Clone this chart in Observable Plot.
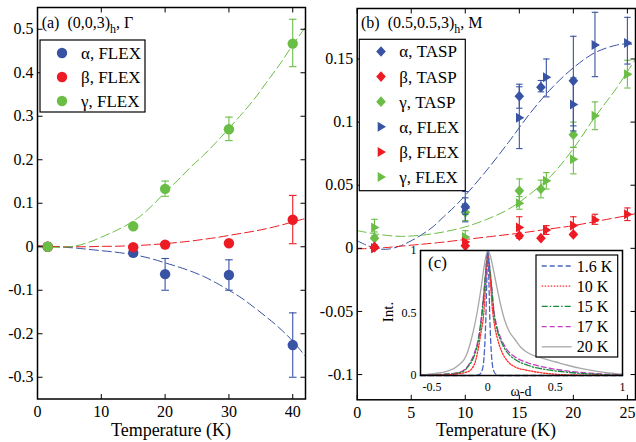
<!DOCTYPE html>
<html><head><meta charset="utf-8">
<script src="https://cdn.jsdelivr.net/npm/d3@7"></script>
<script src="https://cdn.jsdelivr.net/npm/@observablehq/plot@0.6"></script>
<style>
html,body{margin:0;padding:0;background:#fff;}
#wrap{position:relative;width:636px;height:442px;overflow:hidden;font-family:"Liberation Serif","Times New Roman",serif;}
#wrap > svg{position:absolute;overflow:visible;}
</style></head><body><div id="wrap"></div>
<script>
// ---------- Panel (a): (0,0,3)h, Gamma ----------
const aT = [1.6, 15, 20, 30, 40];
const aAlpha   = [0, -0.014, -0.063, -0.065, -0.226];
const aAlphaLo = [null, -0.022, -0.100, -0.100, -0.300];
const aAlphaHi = [null, -0.006, -0.027, -0.030, -0.152];
const aBeta    = [0, -0.001, 0.005, 0.008, 0.062];
const aBetaLo  = [null, null, null, null, 0.007];
const aBetaHi  = [null, null, null, null, 0.118];
const aGamma   = [0, 0.047, 0.133, 0.270, 0.467];
const aGammaLo = [null, null, 0.116, 0.244, 0.414];
const aGammaHi = [null, null, 0.151, 0.298, 0.523];
const aFitT     = [0, 2, 4, 6, 8, 10, 12, 14, 16, 18, 20, 22, 24, 26, 28, 30, 32, 34, 36, 38, 40, 42];
const aFitAlpha = [0.002, 0.001, -0.001, -0.003, -0.006, -0.009, -0.012, -0.016, -0.021, -0.028, -0.037, -0.046, -0.056, -0.068, -0.083, -0.100, -0.118, -0.140, -0.163, -0.188, -0.217, -0.252];
const aFitBeta  = [0.002, 0.001, 0.000, 0.000, 0.000, 0.001, 0.001, 0.002, 0.003, 0.005, 0.007, 0.010, 0.013, 0.017, 0.021, 0.026, 0.031, 0.036, 0.042, 0.049, 0.057, 0.065];
const aFitGamma = [0.000, -0.001, -0.001, 0.002, 0.010, 0.022, 0.035, 0.050, 0.069, 0.095, 0.125, 0.153, 0.183, 0.210, 0.240, 0.272, 0.305, 0.340, 0.380, 0.420, 0.464, 0.505];
const aXTicks = [0, 10, 20, 30, 40];
const aYTicks = [-0.3, -0.2, -0.1, 0, 0.1, 0.2, 0.3, 0.4, 0.5];

// ---------- Panel (b): (0.5,0.5,3)h, M ----------
const bTaspT = [1.6, 10, 15, 17, 20];
const bTaspAlpha   = [0.001, 0.033, 0.1205, 0.1277, 0.1327];
const bTaspAlphaLo = [null, 0.027, 0.111, 0.124, 0.097];
const bTaspAlphaHi = [null, 0.040, 0.130, 0.133, 0.168];
const bTaspBeta    = [0.001, 0.002, 0.010, 0.008, 0.011];
const bTaspGamma   = [0.008, 0.0285, 0.0456, 0.047, 0.090];
const bTaspGammaLo = [0.003, 0.022, 0.036, 0.040, 0.080];
const bTaspGammaHi = [0.013, 0.035, 0.055, 0.054, 0.100];
const bFlexT = [1.6, 10, 15, 17.5, 20, 22, 25];
const bFlexAlpha   = [0.000, 0.032, 0.1035, 0.1356, 0.114, 0.161, 0.1627];
const bFlexAlphaLo = [null, 0.021, 0.079, 0.120, 0.093, 0.136, 0.146];
const bFlexAlphaHi = [null, 0.045, 0.128, 0.150, 0.135, 0.187, 0.183];
const bFlexBeta    = [0.000, 0.005, 0.0166, 0.0145, 0.018, 0.0227, 0.027];
const bFlexBetaLo  = [null, null, 0.008, 0.011, 0.012, 0.019, 0.022];
const bFlexBetaHi  = [null, null, 0.025, 0.018, 0.025, 0.027, 0.032];
const bFlexGamma   = [0.0166, 0.009, 0.0358, 0.0535, 0.0706, 0.105, 0.138];
const bFlexGammaLo = [0.010, 0.005, 0.031, 0.047, 0.059, 0.094, 0.127];
const bFlexGammaHi = [0.023, 0.014, 0.041, 0.060, 0.080, 0.116, 0.149];
const bFitAlphaT = [0, 1, 2, 3, 4, 5, 6, 7, 8, 9, 10, 12, 14, 16, 18, 20, 22, 24, 25, 25.75];
const bFitAlpha  = [0.006, 0.002, -0.0005, -0.0005, 0.002, 0.006, 0.011, 0.017, 0.025, 0.033, 0.042, 0.062, 0.084, 0.107, 0.127, 0.143, 0.155, 0.161, 0.162, 0.161];
const bFitGammaT = [0, 2, 4, 6, 8, 10, 12, 14, 16, 18, 20, 22, 24, 25, 25.75];
const bFitGamma  = [0.014, 0.011, 0.0095, 0.0105, 0.013, 0.017, 0.023, 0.031, 0.043, 0.058, 0.079, 0.104, 0.127, 0.140, 0.150];
const bFitBetaT  = [0, 2.5, 5, 7.5, 10, 12.5, 15, 17.5, 20, 22.5, 25, 25.75];
const bFitBeta   = [-0.0005, 0.0005, 0.0025, 0.0045, 0.007, 0.0095, 0.012, 0.015, 0.018, 0.022, 0.026, 0.0275];
const bXTicks = [0, 5, 10, 15, 20, 25];
const bYTicks = [-0.1, -0.05, 0, 0.05, 0.1, 0.15];

// ---------- Inset (c): line shapes ----------
const c16W = [-0.5, -0.1, -0.06, -0.04, -0.025, -0.015, -0.008, 0, 0.008, 0.015, 0.025, 0.04, 0.06, 0.1, 1.0];
const c16I = [0, 0, 0.01, 0.05, 0.2, 0.45, 0.75, 1.0, 0.75, 0.45, 0.2, 0.05, 0.01, 0, 0];
const c10W = [-0.5, -0.3, -0.15, -0.1, -0.07, -0.05, -0.03, -0.015, 0, 0.015, 0.035, 0.05, 0.07, 0.1, 0.15, 0.2, 0.3, 0.45, 0.6, 1.0];
const c10I = [0.001, 0.005, 0.03, 0.09, 0.22, 0.35, 0.5, 0.75, 0.96, 0.8, 0.52, 0.4, 0.3, 0.2, 0.11, 0.07, 0.04, 0.015, 0.005, 0.001];
const c15W = [-0.5, -0.3, -0.2, -0.14, -0.1, -0.07, -0.045, -0.025, -0.01, 0, 0.01, 0.025, 0.045, 0.07, 0.1, 0.14, 0.2, 0.3, 0.45, 0.6, 0.8, 1.0];
const c15I = [0.002, 0.01, 0.025, 0.08, 0.16, 0.28, 0.47, 0.7, 0.9, 0.97, 0.9, 0.74, 0.5, 0.36, 0.27, 0.19, 0.13, 0.08, 0.045, 0.025, 0.01, 0.003];
const c17W = [-0.5, -0.3, -0.2, -0.14, -0.1, -0.07, -0.045, -0.025, -0.01, 0, 0.01, 0.025, 0.045, 0.07, 0.1, 0.14, 0.2, 0.3, 0.45, 0.6, 0.8, 1.0];
const c17I = [0.003, 0.012, 0.03, 0.09, 0.18, 0.3, 0.5, 0.72, 0.9, 0.98, 0.9, 0.75, 0.52, 0.38, 0.29, 0.21, 0.15, 0.1, 0.06, 0.035, 0.015, 0.005];
const c20W = [-0.5, -0.4, -0.3, -0.22, -0.16, -0.12, -0.08, -0.05, -0.02, 0, 0.02, 0.05, 0.08, 0.12, 0.16, 0.2, 0.25, 0.3, 0.4, 0.5, 0.6, 0.7, 0.8, 0.9, 1.0];
const c20I = [0.005, 0.015, 0.035, 0.08, 0.16, 0.3, 0.5, 0.7, 0.92, 1.0, 0.95, 0.8, 0.64, 0.46, 0.35, 0.29, 0.22, 0.18, 0.14, 0.11, 0.08, 0.055, 0.035, 0.02, 0.01];
const cLabels = ["1.6 K", "10 K", "15 K", "17 K", "20 K"];
const cXTicksEdge = [-0.5];
const cXTicks = [0, 0.5, 1];
const cYTicks = [0, 0.5, 1];

// ---------- styling ----------
const FONT = '"Liberation Serif","Times New Roman",serif';
const BLUE = "#3953a4", RED = "#ed1c24", GREEN = "#6abd45";
const cStyles = [
  {color: "#4a64c0", dash: "5,3"},
  {color: "#ff2a2a", dash: "1.5,1.5"},
  {color: "#168a3c", dash: "6,2,1.5,2"},
  {color: "#c23cc2", dash: "5,3"},
  {color: "#a8a8a8", dash: null}
];

const seg = (dx, dy) => ({draw(c) { c.moveTo(0, 0); c.lineTo(dx, dy); }});
const cap = {draw(c, s) { const w = Math.sqrt(s / Math.PI); c.moveTo(-w, 0); c.lineTo(w, 0); }};
const triR = {draw(c, s) { const r = Math.sqrt(s / Math.PI); c.moveTo(-0.9 * r, -1.35 * r); c.lineTo(1.35 * r, 0); c.lineTo(-0.9 * r, 1.35 * r); c.closePath(); }};
const diam = {draw(c, s) { const r = Math.sqrt(s / Math.PI); c.moveTo(0, -1.45 * r); c.lineTo(1.3 * r, 0); c.lineTo(0, 1.45 * r); c.lineTo(-1.3 * r, 0); c.closePath(); }};
const circ = {draw(c, s) { const r = Math.sqrt(s / Math.PI); c.moveTo(r, 0); c.arc(0, 0, r, 0, 2 * Math.PI); }};

const rows = (xs, ys, lo, hi) => xs.map((x, i) => ({x, y: ys[i], lo: lo ? lo[i] : null, hi: hi ? hi[i] : null}));
const fmt = d => String(d);

function errMarks(r, color, capR) {
  const e = r.filter(d => d.lo != null);
  return [
    Plot.ruleX(e, {x: "x", y1: "lo", y2: "hi", stroke: color, strokeWidth: 1.1}),
    Plot.dot(e, {x: "x", y: "lo", symbol: cap, r: capR, stroke: color, fill: "none", strokeWidth: 1.1}),
    Plot.dot(e, {x: "x", y: "hi", symbol: cap, r: capR, stroke: color, fill: "none", strokeWidth: 1.1})
  ];
}
function frameTicks(xt, yt, xd, yd, len) {
  const o = {stroke: "black", fill: "none", strokeWidth: 1};
  return [
    Plot.dot(yt, {x: () => xd[0], y: d => d, symbol: seg(len, 0), ...o}),
    Plot.dot(yt, {x: () => xd[1], y: d => d, symbol: seg(-len, 0), ...o}),
    Plot.dot(xt, {x: d => d, y: () => yd[0], symbol: seg(0, -len), ...o}),
    Plot.dot(xt, {x: d => d, y: () => yd[1], symbol: seg(0, len), ...o})
  ];
}

const wrap = document.getElementById("wrap");

// ---------- Panel (a) ----------
const aSeries = [
  {label: "α, FLEX", color: BLUE, pts: rows(aT, aAlpha, aAlphaLo, aAlphaHi), fit: rows(aFitT, aFitAlpha)},
  {label: "β, FLEX", color: RED, pts: rows(aT, aBeta, aBetaLo, aBetaHi), fit: rows(aFitT, aFitBeta)},
  {label: "γ, FLEX", color: GREEN, pts: rows(aT, aGamma, aGammaLo, aGammaHi), fit: rows(aFitT, aFitGamma)}
];
const aXD = [0, 42], aYD = [-0.35, 0.55];
const plotA = Plot.plot({
  width: 318, height: 442, marginLeft: 37, marginRight: 13, marginTop: 7, marginBottom: 43.5,
  x: {domain: aXD}, y: {domain: aYD},
  style: {fontFamily: FONT, fontSize: "16px", background: "transparent", color: "black", overflow: "visible"},
  marks: [
    Plot.axisX(aXTicks, {tickSize: 0, tickPadding: 7, tickFormat: fmt, label: null, fontSize: 16}),
    Plot.axisY(aYTicks, {tickSize: 0, tickPadding: 4, tickFormat: fmt, label: null, fontSize: 16}),
    ...aSeries.map(s => Plot.line(s.fit, {x: "x", y: "y", stroke: s.color, strokeWidth: 1, strokeDasharray: "9,4", curve: "catmull-rom"})),
    ...aSeries.flatMap(s => errMarks(s.pts, s.color, 3.8)),
    ...aSeries.map(s => Plot.dot(s.pts, {x: "x", y: "y", r: 5.2, fill: s.color, stroke: "none"})),
    ...frameTicks(aXTicks, aYTicks, aXD, aYD, 5),
    Plot.frame({stroke: "black", strokeWidth: 1.5})
  ]
});
plotA.style.left = "0px"; plotA.style.top = "0px";
wrap.appendChild(plotA);

// ---------- Panel (b) ----------
const bSeries = [
  {label: "α, TASP", color: BLUE, sym: diam, pts: rows(bTaspT, bTaspAlpha, bTaspAlphaLo, bTaspAlphaHi)},
  {label: "β, TASP", color: RED, sym: diam, pts: rows(bTaspT, bTaspBeta)},
  {label: "γ, TASP", color: GREEN, sym: diam, pts: rows(bTaspT, bTaspGamma, bTaspGammaLo, bTaspGammaHi)},
  {label: "α, FLEX", color: BLUE, sym: triR, pts: rows(bFlexT, bFlexAlpha, bFlexAlphaLo, bFlexAlphaHi)},
  {label: "β, FLEX", color: RED, sym: triR, pts: rows(bFlexT, bFlexBeta, bFlexBetaLo, bFlexBetaHi)},
  {label: "γ, FLEX", color: GREEN, sym: triR, pts: rows(bFlexT, bFlexGamma, bFlexGammaLo, bFlexGammaHi)}
];
const bFits = [
  {color: BLUE, fit: rows(bFitAlphaT, bFitAlpha)},
  {color: RED, fit: rows(bFitBetaT, bFitBeta)},
  {color: GREEN, fit: rows(bFitGammaT, bFitGamma)}
];
const bDrawOrder = [2, 5, 0, 3, 1, 4];
const bXD = [0, 25.75], bYD = [-0.12, 0.19];
const plotB = Plot.plot({
  width: 318, height: 442, marginLeft: 38.7, marginRight: 1, marginTop: 8, marginBottom: 42.7,
  x: {domain: bXD}, y: {domain: bYD},
  style: {fontFamily: FONT, fontSize: "16px", background: "transparent", color: "black", overflow: "visible"},
  marks: [
    Plot.axisX(bXTicks, {tickSize: 0, tickPadding: 7, tickFormat: fmt, label: null, fontSize: 16}),
    Plot.axisY(bYTicks, {tickSize: 0, tickPadding: 4, tickFormat: fmt, label: null, fontSize: 16}),
    ...bFits.map(s => Plot.line(s.fit, {x: "x", y: "y", stroke: s.color, strokeWidth: 1, strokeDasharray: "9,4", curve: "catmull-rom"})),
    ...bDrawOrder.flatMap(i => [
      ...errMarks(bSeries[i].pts, bSeries[i].color, 3.2),
      Plot.dot(bSeries[i].pts, {x: "x", y: "y", r: 3.7, symbol: bSeries[i].sym, fill: bSeries[i].color, stroke: "none"})
    ]),
    ...frameTicks(bXTicks, bYTicks, bXD, bYD, 5),
    Plot.frame({stroke: "black", strokeWidth: 1.5})
  ]
});
plotB.style.left = "318px"; plotB.style.top = "0px";
wrap.appendChild(plotB);

// ---------- Inset (c) ----------
const cSeries = [rows(c16W, c16I), rows(c10W, c10I), rows(c15W, c15I), rows(c17W, c17I), rows(c20W, c20I)];
const plotC = Plot.plot({
  width: 255, height: 160, marginLeft: 45, marginRight: 8, marginTop: 10, marginBottom: 25,
  x: {domain: [-0.5, 1]}, y: {domain: [0, 1]},
  style: {fontFamily: FONT, fontSize: "12px", background: "transparent", color: "black", overflow: "visible"},
  marks: [
    Plot.frame({fill: "white", stroke: "none"}),
    ...[4, 3, 2, 1, 0].map(i => Plot.line(cSeries[i], {x: "x", y: "y", stroke: cStyles[i].color, strokeWidth: 1.3, strokeDasharray: cStyles[i].dash, curve: "monotone-x"})),
    Plot.axisX(cXTicksEdge, {tickSize: 0, tickPadding: 7, tickFormat: fmt, label: null, fontSize: 12, textAnchor: "start", dx: 2}),
    Plot.axisX(cXTicks, {tickSize: 0, tickPadding: 7, tickFormat: fmt, label: null, fontSize: 12}),
    Plot.axisY(cYTicks, {tickSize: 0, tickPadding: 4, tickFormat: fmt, label: null, fontSize: 12}),
    Plot.frame({stroke: "black", strokeWidth: 1.5})
  ]
});
plotC.style.left = "375px"; plotC.style.top = "240px";
wrap.appendChild(plotC);

// ---------- Overlay: titles, legends, axis labels ----------
const ov = d3.create("svg").attr("width", 636).attr("height", 442)
  .style("left", "0px").style("top", "0px").style("font-family", FONT);
function symPath(g, sym, r, x, y, color) {
  const p = d3.path(); sym.draw(p, r * r * Math.PI);
  g.append("path").attr("d", p.toString()).attr("transform", `translate(${x},${y})`).attr("fill", color);
}
// titles
const tA = ov.append("text").attr("x", 41.7).attr("y", 28).attr("font-size", 16);
tA.append("tspan").text("(a)\u00a0\u00a0(0,0,3)");
tA.append("tspan").attr("dy", 5).attr("font-size", 12).text("h");
tA.append("tspan").attr("dy", -5).text(", Γ");
const tB = ov.append("text").attr("x", 361).attr("y", 28).attr("font-size", 16);
tB.append("tspan").text("(b)\u00a0\u00a0(0.5,0.5,3)");
tB.append("tspan").attr("dy", 5).attr("font-size", 12).text("h");
tB.append("tspan").attr("dy", -5).text(", M");
ov.append("text").attr("x", 428).attr("y", 262).attr("dy", "0.35em").attr("font-size", 17).text("(c)");
// axis labels
ov.append("text").attr("x", 171).attr("y", 436).attr("text-anchor", "middle").attr("font-size", 18).text("Temperature (K)");
ov.append("text").attr("x", 496).attr("y", 436).attr("text-anchor", "middle").attr("font-size", 18).text("Temperature (K)");
ov.append("text").attr("transform", "translate(388,312) rotate(-90)").attr("text-anchor", "middle").attr("dy", "0.35em").attr("font-size", 15).text("Int.");
ov.append("text").attr("x", 521).attr("y", 391).attr("text-anchor", "middle").attr("dy", "0.35em").attr("font-size", 14).text("ω-d");
// legend a
const gA = ov.append("g");
gA.append("rect").attr("x", 40).attr("y", 40).attr("width", 105).attr("height", 72).attr("fill", "white").attr("stroke", "black").attr("stroke-width", 1.2);
aSeries.forEach((s, i) => {
  const y = 53 + i * 24;
  symPath(gA, circ, 5.2, 62, y, s.color);
  gA.append("text").attr("x", 81).attr("y", y).attr("dy", "0.35em").attr("font-size", 17).text(s.label);
});
// legend b
const gB = ov.append("g");
gB.append("rect").attr("x", 359.3).attr("y", 39.3).attr("width", 106).attr("height", 151.4).attr("fill", "white").attr("stroke", "black").attr("stroke-width", 1.2);
bSeries.forEach((s, i) => {
  const y = 51.5 + i * 25.1;
  symPath(gB, s.sym, 3.7, 381, y, s.color);
  gB.append("text").attr("x", 399.3).attr("y", y).attr("dy", "0.35em").attr("font-size", 17).text(s.label);
});
// legend c
const gC = ov.append("g");
gC.append("rect").attr("x", 536).attr("y", 255).attr("width", 81.7).attr("height", 102).attr("fill", "white").attr("stroke", "black").attr("stroke-width", 1.2);
cLabels.forEach((l, i) => {
  const y = 266 + i * 20.2;
  gC.append("line").attr("x1", 541.7).attr("x2", 571.7).attr("y1", y).attr("y2", y)
    .attr("stroke", cStyles[i].color).attr("stroke-width", 1.3).attr("stroke-dasharray", cStyles[i].dash);
  gC.append("text").attr("x", 576.7).attr("y", y).attr("dy", "0.35em").attr("font-size", 16).text(l);
});
wrap.appendChild(ov.node());
</script></body></html>
